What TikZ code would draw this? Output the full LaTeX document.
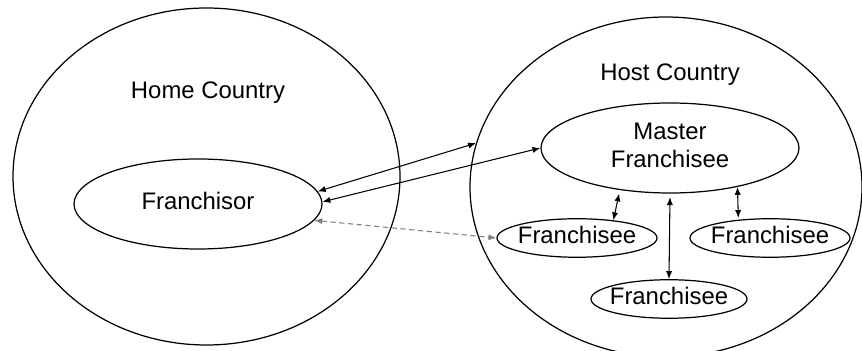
\documentclass[tikz,border=0pt]{standalone}
\usepackage{fontspec}
\setmainfont{Liberation Sans}
\usepackage{tikz}
\usetikzlibrary{arrows.meta,shapes.geometric}

\newcommand{\ovaltext}[1]{\makebox[0pt]{\begin{tabular}{@{}c@{}}#1\end{tabular}}}

\begin{document}
\begin{tikzpicture}[
  font=\fontsize{13.6}{15.5}\selectfont,
  countrybox/.style={draw, ellipse, line width=0.7pt, inner sep=0pt},
  partybox/.style={draw, ellipse, line width=0.7pt, inner sep=0pt},
  linkar/.style={{Latex[length=4.5pt,width=3.5pt]}-{Latex[length=4.5pt,width=3.5pt]}, line width=0.6pt},
  infoar/.style={{Latex[length=4.5pt,width=3.5pt]}-{Latex[length=4.5pt,width=3.5pt]}, line width=0.6pt,
    densely dashed, gray},
]
\useasboundingbox (0,0) rectangle (17.24,7.02);

% ── Countries ────────────────────────────────────────────────────────────────
\node[countrybox, minimum width=7.74cm, minimum height=6.74cm] (home) at (4.13,3.49) {};
\node[countrybox, minimum width=7.84cm, minimum height=6.80cm] (host) at (13.32,3.28) {};
\node (homelbl) at (4.16,5.16) {Home Country};
\node (hostlbl) at (13.40,5.52) {Host Country};

% ── Parties ──────────────────────────────────────────────────────────────────
\node[partybox, minimum width=4.96cm, minimum height=1.80cm] (franchisor) at (3.96,2.94)
  {\ovaltext{Franchisor}};
\node[partybox, minimum width=5.16cm, minimum height=1.80cm] (master) at (13.40,4.06)
  {\ovaltext{Master\\Franchisee}};
\node[partybox, minimum width=3.20cm, minimum height=0.66cm] (fleft) at (11.54,2.26)
  {\ovaltext{Franchisee}};
\node[partybox, minimum width=3.20cm, minimum height=0.66cm] (fright) at (15.40,2.26)
  {\ovaltext{Franchisee}};
\node[partybox, minimum width=3.12cm, minimum height=0.66cm] (fbottom) at (13.38,1.04)
  {\ovaltext{Franchisee}};

% ── Links ────────────────────────────────────────────────────────────────────
\draw[linkar] (franchisor.6) -- (host.167);
\draw[linkar] (franchisor.1) -- (master.west);
\draw[infoar] (franchisor.-8) -- (fleft.west);
\draw[linkar, shorten <=2pt] (master.220) -- (fleft.26);
\draw[linkar, shorten <=2pt] (master.south) -- (fbottom.north);
\draw[linkar, shorten >=1pt] (master.330) -- (fright.150);

\end{tikzpicture}
\end{document}
